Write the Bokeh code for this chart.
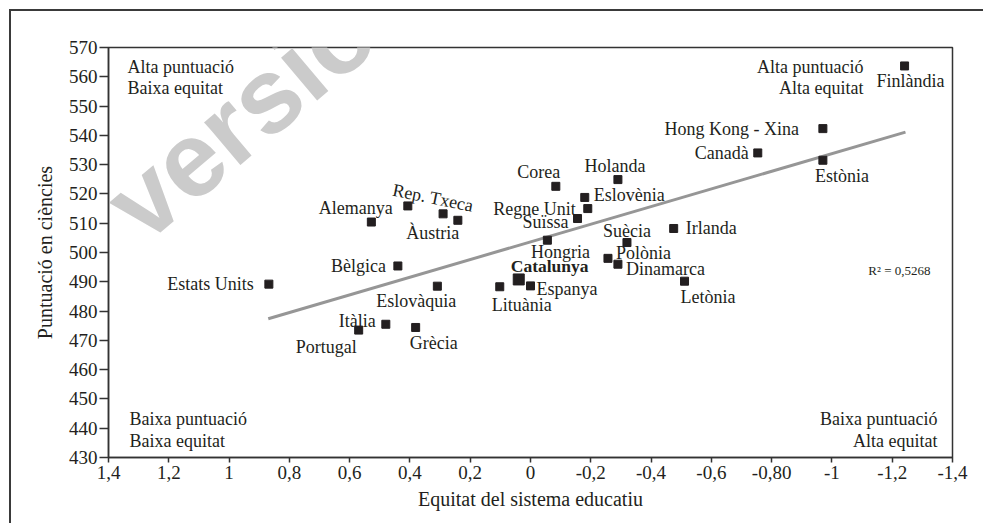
from bokeh.plotting import figure
from bokeh.models import Range1d, FixedTicker, ColumnDataSource, Label
from bokeh.core.properties import value
from bokeh.embed import file_html
from bokeh.resources import INLINE

# ---------------- data ----------------
countries = ["Finlàndia", "Hong Kong - Xina", "Canadà", "Estònia", "Holanda", "Corea",
             "Eslovènia", "Regne Unit", "Suïssa", "Hongria", "Suècia", "Polònia",
             "Dinamarca", "Irlanda", "Letònia", "Catalunya", "Espanya", "Lituània",
             "Eslovàquia", "Bèlgica", "Alemanya", "", "Rep. Txeca", "Àustria",
             "Estats Units", "Itàlia", "Portugal", "Grècia"]
equity = [-1.241, -0.970, -0.754, -0.970, -0.290, -0.084,
          -0.180, -0.190, -0.156, -0.056, -0.320, -0.257,
          -0.290, -0.475, -0.511, 0.039, 0.000, 0.102,
          0.309, 0.440, 0.407, 0.528, 0.290, 0.241,
          0.868, 0.480, 0.570, 0.381]
science = [563.7, 542.3, 534.0, 531.5, 524.9, 522.6,
           518.8, 515.0, 511.6, 504.2, 503.4, 498.0,
           496.0, 508.2, 490.2, 490.8, 488.6, 488.3,
           488.5, 495.4, 515.9, 510.4, 513.2, 511.0,
           489.2, 475.5, 473.5, 474.4]
highlight = "Catalunya"

trend_x = [0.870, -1.244]
trend_y = [477.4, 541.1]
r_squared_text = "R² = 0,5268"

x_ticks = [1.4, 1.2, 1.0, 0.8, 0.6, 0.4, 0.2, 0.0, -0.2, -0.4, -0.6, -0.8, -1.0, -1.2, -1.4]
x_tick_labels = ["1,4", "1,2", "1", "0,8", "0,6", "0,4", "0,2", "0", "-0,2", "-0,4",
                 "-0,6", "-0,80", "-1", "-1,2", "-1,4"]
y_ticks = [430, 440, 450, 460, 470, 480, 490, 500, 510, 520, 530, 540, 550, 560, 570]

quadrant_tl = ["Alta puntuació", "Baixa equitat"]
quadrant_tr = ["Alta puntuació", "Alta equitat"]
quadrant_bl = ["Baixa puntuació", "Baixa equitat"]
quadrant_br = ["Baixa puntuació", "Alta equitat"]

x_title = "Equitat del sistema educatiu"
y_title = "Puntuació en ciències"
watermark = "versió"

# ---------------- label layout (style: align, dx px, dy px down, angle) ----------------
label_style = {
    "Finlàndia": ("center", 6, 15, 0),
    "Hong Kong - Xina": ("right", -24, 0, 0),
    "Canadà": ("right", -9, 0, 0),
    "Estònia": ("center", 19, 16, 0),
    "Holanda": ("center", -3, -14, 0),
    "Corea": ("center", -17, -14, 0),
    "Eslovènia": ("left", 9, -2, 0),
    "Regne Unit": ("right", -12, 0, 0),
    "Suïssa": ("right", -9, 3, 0),
    "Hongria": ("center", 13, 12, 0),
    "Suècia": ("center", 0, -12, 0),
    "Polònia": ("left", 8, -5, 0),
    "Dinamarca": ("left", 8, 5, 0),
    "Irlanda": ("left", 12, 0, 0),
    "Letònia": ("left", -4, 16, 0),
    "Catalunya": ("left", -8, -13, 0),
    "Espanya": ("left", 6, 3, 0),
    "Lituània": ("left", -8, 18, 0),
    "Eslovàquia": ("center", -21, 15, 0),
    "Bèlgica": ("right", -12, 0, 0),
    "Alemanya": ("right", -15, 2, 0),
    "": ("left", 0, 0, 0),
    "Rep. Txeca": ("center", -10, -16, -0.2),
    "Àustria": ("center", -25, 13, 0),
    "Estats Units": ("right", -15, 0, 0),
    "Itàlia": ("right", -10, -3, 0),
    "Portugal": ("right", -2, 17, 0),
    "Grècia": ("center", 18, 16, 0),
}

INK = "#231f20"
SERIF = "Liberation Serif"

p = figure(width=974, height=514, output_backend="svg", toolbar_location=None,
           x_range=Range1d(1.4, -1.4), y_range=Range1d(430, 570),
           min_border_left=97, min_border_right=33, min_border_top=36, min_border_bottom=68,
           background_fill_color="white", border_fill_color="white")
p.styles = {"margin-left": "9px", "margin-top": "9px",
            "border-left": "2px solid #3a3a3a", "border-top": "2px solid #3a3a3a"}
p.grid.visible = False
p.outline_line_color = "#333333"
p.outline_line_width = 1.5

# watermark
p.add_layout(Label(x=1.359, y=512.0, text=watermark, angle=0.70,
                   text_font="Liberation Sans", text_font_style="bold",
                   text_font_size="106px", text_color="#cbcbcb", text_baseline="alphabetic",
                   level="underlay"))

# axes
for ax in (p.xaxis[0], p.yaxis[0]):
    ax.axis_line_color = "#333333"
    ax.axis_line_width = 1.5
    ax.major_tick_line_color = "#333333"
    ax.major_tick_line_width = 1.5
    ax.major_tick_in = 0
    ax.minor_tick_line_color = None
    ax.major_label_text_font = SERIF
    ax.major_label_text_font_size = "19px"
    ax.major_label_text_color = INK
    ax.axis_label_text_font = SERIF
    ax.axis_label_text_font_size = "20px"
    ax.axis_label_text_font_style = "normal"
    ax.axis_label_text_color = INK

p.xaxis.ticker = FixedTicker(ticks=x_ticks)
p.xaxis.major_label_overrides = dict(zip(x_ticks, x_tick_labels))
p.xaxis.major_tick_out = 5
p.xaxis.major_label_standoff = 3
p.xaxis.axis_label = x_title
p.xaxis.axis_label_standoff = 6

p.yaxis.ticker = FixedTicker(ticks=y_ticks)
p.yaxis.major_tick_out = 9
p.yaxis.major_label_standoff = 2
p.yaxis.axis_label = y_title
p.yaxis.axis_label_standoff = 10

# trend line
p.line(trend_x, trend_y, line_color="#969696", line_width=3)

# points
reg = [i for i, c in enumerate(countries) if c != highlight]
hil = [i for i, c in enumerate(countries) if c == highlight]
p.scatter([equity[i] for i in reg], [science[i] for i in reg], marker="square",
          size=8, fill_color=INK, line_color=INK)
p.scatter([equity[i] for i in hil], [science[i] for i in hil], marker="square",
          size=11, fill_color=INK, line_color=INK)

# point labels
groups = {}
for i, c in enumerate(countries):
    if not c:
        continue
    al, dx, dy, ang = label_style[c]
    key = (al, c == highlight)
    g = groups.setdefault(key, dict(x=[], y=[], t=[], dx=[], dy=[], a=[]))
    g["x"].append(equity[i]); g["y"].append(science[i]); g["t"].append(c)
    g["dx"].append(dx); g["dy"].append(dy); g["a"].append(ang)

for (al, bold), g in groups.items():
    src = ColumnDataSource(g)
    p.text(x="x", y="y", text="t", x_offset="dx", y_offset="dy", angle="a", source=src,
           text_align=al, text_baseline="middle", text_font=value(SERIF),
           text_font_size="17.5px" if bold else "18px", text_color=INK,
           text_font_style="bold" if bold else "normal")

# quadrant labels (text annotations)
def qlab(x, y, t, align):
    p.add_layout(Label(x=x, y=y, text=t, text_align=align, text_baseline="middle",
                       text_font=SERIF, text_font_size="18px", text_color=INK))

qlab(1.337, 563.2, quadrant_tl[0], "left");  qlab(1.337, 556.3, quadrant_tl[1], "left")
qlab(-1.105, 563.2, quadrant_tr[0], "right"); qlab(-1.105, 556.3, quadrant_tr[1], "right")
qlab(1.33, 443.0, quadrant_bl[0], "left");   qlab(1.33, 435.5, quadrant_bl[1], "left")
qlab(-1.350, 443.0, quadrant_br[0], "right"); qlab(-1.350, 435.5, quadrant_br[1], "right")

p.add_layout(Label(x=-1.327, y=493.9, text=r_squared_text, text_align="right",
                   text_baseline="middle", text_font=SERIF, text_font_size="13px",
                   text_color=INK))

open("out.html", "w").write(file_html(p, INLINE))
